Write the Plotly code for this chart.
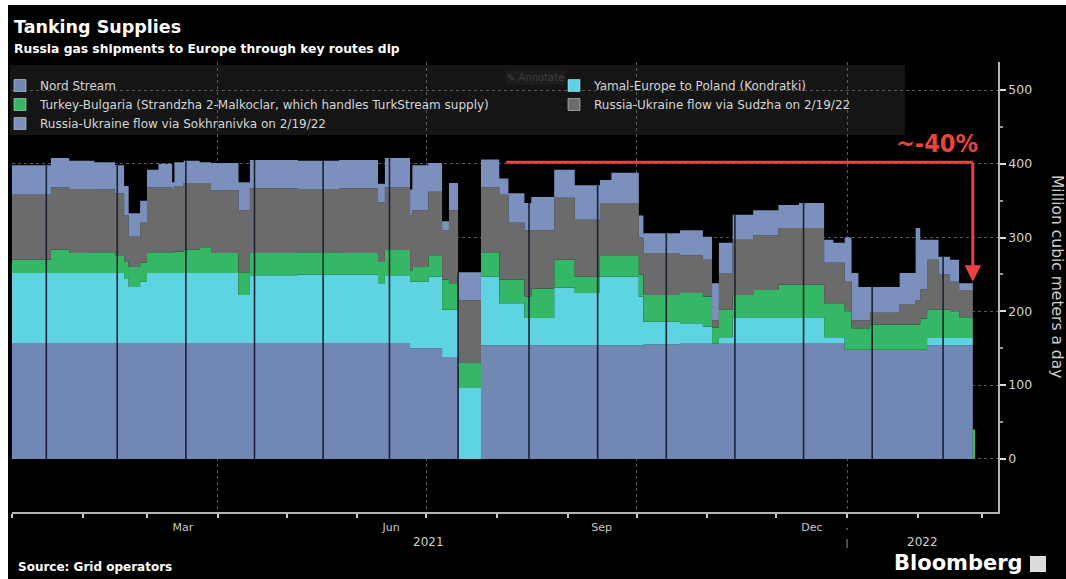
import plotly.graph_objects as go
import pandas as pd

# ---------------- data (million cubic meters a day), step changes ----------------
dates = [
    "2021-01-01", "2021-01-18", "2021-01-26", "2021-02-06", "2021-02-15", "2021-02-19",
    "2021-02-21", "2021-02-26", "2021-03-01", "2021-03-06", "2021-03-12", "2021-03-13",
    "2021-03-17", "2021-03-24", "2021-03-29", "2021-04-10", "2021-04-15", "2021-05-06",
    "2021-05-24", "2021-06-10", "2021-06-13", "2021-06-24", "2021-06-25", "2021-07-02",
    "2021-07-08", "2021-07-11", "2021-07-15", "2021-07-25", "2021-08-02", "2021-08-06",
    "2021-08-13", "2021-08-16", "2021-08-26", "2021-09-04", "2021-09-15", "2021-09-20",
    "2021-10-02", "2021-10-04", "2021-10-20", "2021-10-30", "2021-11-03", "2021-11-06",
    "2021-11-12", "2021-11-21", "2021-12-02", "2021-12-11", "2021-12-22", "2021-12-26",
    "2021-12-31", "2022-01-03", "2022-01-06", "2022-01-11", "2022-01-24", "2022-01-31",
    "2022-02-02", "2022-02-05", "2022-02-10", "2022-02-15", "2022-02-19", "2022-02-25",
    "2022-02-26",
]
nord_stream = [
    157, 157, 157, 157, 157, 157, 157, 157, 157, 157, 157, 157,
    157, 157, 157, 157, 157, 157, 157, 157, 157, 150, 150, 150,
    138, 138, 0, 154, 154, 154, 154, 154, 154, 154, 154, 154,
    154, 155, 156, 156, 156, 156, 156, 156, 156, 157, 157, 157,
    148, 148, 148, 148, 148, 148, 148, 154, 154, 154, 154, 0,
    0,
]
yamal = [
    95, 95, 95, 95, 95, 88, 76, 83, 95, 95, 95, 95,
    95, 95, 95, 65, 92, 93, 93, 81, 92, 90, 90, 97,
    64, 64, 96, 93, 57, 57, 37, 37, 78, 71, 93, 93,
    66, 31, 28, 23, 0, 9, 36, 36, 36, 35, 8, 8,
    0, 0, 0, 0, 0, 0, 0, 10, 10, 10, 10, 0,
    0,
]
turkey_bulgaria = [
    18, 32, 27, 28, 24, 23, 27, 26, 28, 28, 28, 29,
    32, 35, 27, 31, 30, 30, 29, 29, 34, 15, 20, 29,
    41, 36, 34, 33, 32, 32, 29, 40, 38, 22, 29, 29,
    30, 36, 41, 41, 22, 37, 30, 37, 44, 44, 46, 46,
    52, 29, 29, 34, 34, 34, 42, 38, 38, 36, 28, 40,
    40,
]
sudzha = [
    88, 84, 87, 85, 84, 62, 41, 54, 88, 88, 86, 89,
    90, 87, 85, 84, 88, 86, 88, 81, 85, 75, 77, 86,
    67, 99, 85, 88, 115, 77, 90, 79, 84, 77, 71, 71,
    50, 57, 51, 50, 10, 50, 75, 74, 77, 77, 55, 55,
    40, 11, 11, 16, 28, 33, 40, 68, 48, 40, 37, 0,
    0,
]
sokhranivka = [
    40, 40, 38, 37, 38, 40, 32, 30, 24, 32, 9, 32,
    30, 28, 37, 38, 38, 38, 38, 25, 40, 35, 61, 39,
    12, 37, 38, 38, 22, 40, 37, 45, 38, 47, 31, 41,
    30, 27, 34, 31, 50, 41, 34, 34, 31, 34, 31, 27,
    60, 64, 45, 35, 42, 98, 67, 27, 24, 30, 9, 0,
    0,
]

series_names = [
    "Nord Stream",
    "Yamal-Europe to Poland (Kondratki)",
    "Turkey-Bulgaria (Strandzha 2-Malkoclar, which handles TurkStream supply)",
    "Russia-Ukraine flow via Sudzha on 2/19/22",
    "Russia-Ukraine flow via Sokhranivka on 2/19/22",
]
series_values = [nord_stream, yamal, turkey_bulgaria, sudzha, sokhranivka]
series_colors = ["#7088b3", "#5ed3e2", "#34b865", "#6b6b6b", "#7b90bc"]
legend_of = ["legend", "legend2", "legend", "legend2", "legend"]

# dark data-gap days (one per month)
gap_dates = [
    "2021-01-16", "2021-02-16", "2021-03-18", "2021-04-17", "2021-05-17", "2021-06-15",
    "2021-07-15", "2021-08-15", "2021-09-14", "2021-10-14", "2021-11-13", "2021-12-13",
    "2022-01-12", "2022-02-12",
]
quarter_starts = ["2021-04-01", "2021-07-01", "2021-10-01", "2022-01-01"]
quarter_labels = ["Mar", "Jun", "Sep", "Dec"]
y_ticks = [0, 100, 200, 300, 400, 500]
y_minor = [50, 150, 250, 350, 450]

# ~-40% marker: from the Aug level to the latest level
drop_start, drop_end = "2021-08-05", "2022-02-25"
drop_from, drop_to = 402, 240

# ---------------- layout geometry ----------------
W, H = 1066, 579
ML, MR, MT, MB = 12, 68, 62, 67
PW, PH = W - ML - MR, H - MT - MB


def px(x):
    return (x - ML) / PW


def py(y):
    return (H - MB - y) / PH


fig = go.Figure()

for name, vals, col in zip(series_names, series_values, series_colors):
    fig.add_trace(go.Scatter(
        x=dates, y=vals, name=name, mode="lines", stackgroup="one",
        line=dict(width=0, shape="hv", color=col), fillcolor=col,
        showlegend=False, hoverinfo="skip",
    ))

# legend entries (square swatches)
for name, col, lg in zip(series_names, series_colors, legend_of):
    fig.add_trace(go.Bar(x=[None], y=[None], name=name, marker_color=col,
                         legend=lg, showlegend=True))

# gap lines through the stack
d_idx = pd.to_datetime(pd.Series(dates))
shapes = []
for g in gap_dates:
    i = int((d_idx <= pd.Timestamp(g)).sum()) - 1
    tot = sum(v[i] for v in series_values)
    shapes.append(dict(type="line", xref="x", yref="y", x0=g, x1=g, y0=0, y1=tot,
                       line=dict(color="#1a2232", width=1.6), layer="above"))

# legend panel background
shapes.append(dict(type="rect", xref="paper", yref="paper", x0=px(10), x1=px(905),
                   y0=py(135), y1=py(65), fillcolor="rgba(24,24,24,0.88)",
                   line=dict(width=0), layer="between"))
# red drop marker line
shapes.append(dict(type="line", xref="x", yref="y", x0=drop_start, x1=drop_end,
                   y0=drop_from, y1=drop_from, line=dict(color="#e8443b", width=3),
                   layer="above"))
# year separator below axis
shapes.append(dict(type="line", xref="x", yref="paper", x0="2022-01-01", x1="2022-01-01",
                   y0=py(548), y1=py(528), line=dict(color="#9a9a9a", width=1, dash="dash")))
# white page borders (screenshot edges)
shapes.append(dict(type="rect", xref="paper", yref="paper", x0=px(0), x1=px(W),
                   y0=py(5), y1=py(0), fillcolor="white", line=dict(width=0), layer="above"))
shapes.append(dict(type="rect", xref="paper", yref="paper", x0=px(0), x1=px(8),
                   y0=py(H), y1=py(0), fillcolor="white", line=dict(width=0), layer="above"))
# Bloomberg icon
shapes.append(dict(type="rect", xref="paper", yref="paper", x0=px(1030), x1=px(1046),
                   y0=py(572), y1=py(556), fillcolor="#dcdcdc", line=dict(width=0)))

annotations = [
    dict(text="<b>Tanking Supplies</b>", x=px(12), y=py(27), xref="paper", yref="paper",
         xanchor="left", yanchor="middle", showarrow=False,
         font=dict(family="DejaVu Sans", size=17.5, color="white")),
    dict(text="<b>Russia gas shipments to Europe through key routes dip</b>", x=px(12), y=py(49),
         xref="paper", yref="paper", xanchor="left", yanchor="middle", showarrow=False,
         font=dict(family="DejaVu Sans", size=12.3, color="white")),
    dict(text="<b>Source: Grid operators</b>", x=px(16), y=py(567), xref="paper", yref="paper",
         xanchor="left", yanchor="middle", showarrow=False,
         font=dict(family="DejaVu Sans", size=12, color="white")),
    dict(text="<b>Bloomberg</b>", x=px(892), y=py(563), xref="paper", yref="paper",
         xanchor="left", yanchor="middle", showarrow=False,
         font=dict(family="DejaVu Sans", size=21, color="white")),
    dict(text="Million cubic meters a day", x=px(1057), y=py(276), xref="paper", yref="paper",
         xanchor="center", yanchor="middle", textangle=90, showarrow=False,
         font=dict(family="DejaVu Sans", size=15.5, color="#cfcfcf")),
    dict(text="2021", x="2021-07-02", y=py(542), xref="x", yref="paper",
         xanchor="center", yanchor="middle", showarrow=False,
         font=dict(family="DejaVu Sans", size=12, color="#cfcfcf")),
    dict(text="2022", x="2022-02-03", y=py(542), xref="x", yref="paper",
         xanchor="center", yanchor="middle", showarrow=False,
         font=dict(family="DejaVu Sans", size=12, color="#cfcfcf")),
    dict(text="✎ Annotate", x=px(535), y=py(77), xref="paper", yref="paper",
         xanchor="center", yanchor="middle", showarrow=False, bgcolor="#1d1d1d",
         font=dict(family="DejaVu Sans", size=10, color="#3f3f3f")),
    dict(text="<b>~-40%</b>", x=px(937), y=py(143), xref="paper", yref="paper",
         xanchor="center", yanchor="middle", showarrow=False,
         font=dict(family="DejaVu Sans Condensed, Liberation Sans Narrow, sans-serif",
                   size=25, color="#e8443b")),
    dict(text="", x=drop_end, y=drop_to, ax=drop_end, ay=drop_from, xref="x", yref="y",
         axref="x", ayref="y", showarrow=True, arrowhead=2, arrowsize=1.1, arrowwidth=3,
         arrowcolor="#e8443b", standoff=0, startstandoff=0),
]

fig.update_layout(
    width=W, height=H, autosize=False,
    margin=dict(l=ML, r=MR, t=MT, b=MB),
    paper_bgcolor="black", plot_bgcolor="black",
    font=dict(family="DejaVu Sans", color="#d5d5d5"),
    barmode="overlay",
    xaxis=dict(
        type="date", range=["2021-01-01", "2022-03-08"],
        tickvals=quarter_starts, ticktext=quarter_labels, ticklabelshift=-35,
        ticks="outside", ticklen=4, tickwidth=1.5, tickcolor="#cccccc",
        tickfont=dict(size=11, color="#c8c8c8"),
        showline=True, linecolor="#b5b5b5", linewidth=1.5,
        showgrid=True, gridcolor="#5a5a5a", griddash="dot", gridwidth=1,
        zeroline=False, fixedrange=True,
        minor=dict(ticks="outside", dtick="M1", tick0="2021-01-01", ticklen=4,
                   tickwidth=1.5, tickcolor="#cccccc", showgrid=False),
    ),
    yaxis=dict(
        side="right", range=[-72, 538], tickvals=y_ticks,
        ticks="outside", ticklen=6, tickwidth=1.5, tickcolor="#dddddd",
        tickfont=dict(size=12.5, color="#d0d0d0"),
        showline=True, linecolor="#b5b5b5", linewidth=1.5,
        showgrid=True, gridcolor="#5a5a5a", griddash="dot", gridwidth=1,
        zeroline=False, fixedrange=True,
        minor=dict(tickvals=y_minor, ticks="outside", ticklen=3, tickcolor="#999999",
                   showgrid=False),
    ),
    legend=dict(x=0, y=py(71), xanchor="left", yanchor="top", indentation=-12,
                bgcolor="rgba(0,0,0,0)", font=dict(size=12, color="#d5d5d5"),
                itemwidth=30, tracegroupgap=0, traceorder="normal"),
    legend2=dict(x=px(566), y=py(71), xanchor="left", yanchor="top", indentation=-12,
                 bgcolor="rgba(0,0,0,0)", font=dict(size=12, color="#d5d5d5"),
                 itemwidth=30, tracegroupgap=0, traceorder="normal"),
    shapes=shapes,
    annotations=annotations,
)

fig.write_html("out.html", config={"displayModeBar": False})
